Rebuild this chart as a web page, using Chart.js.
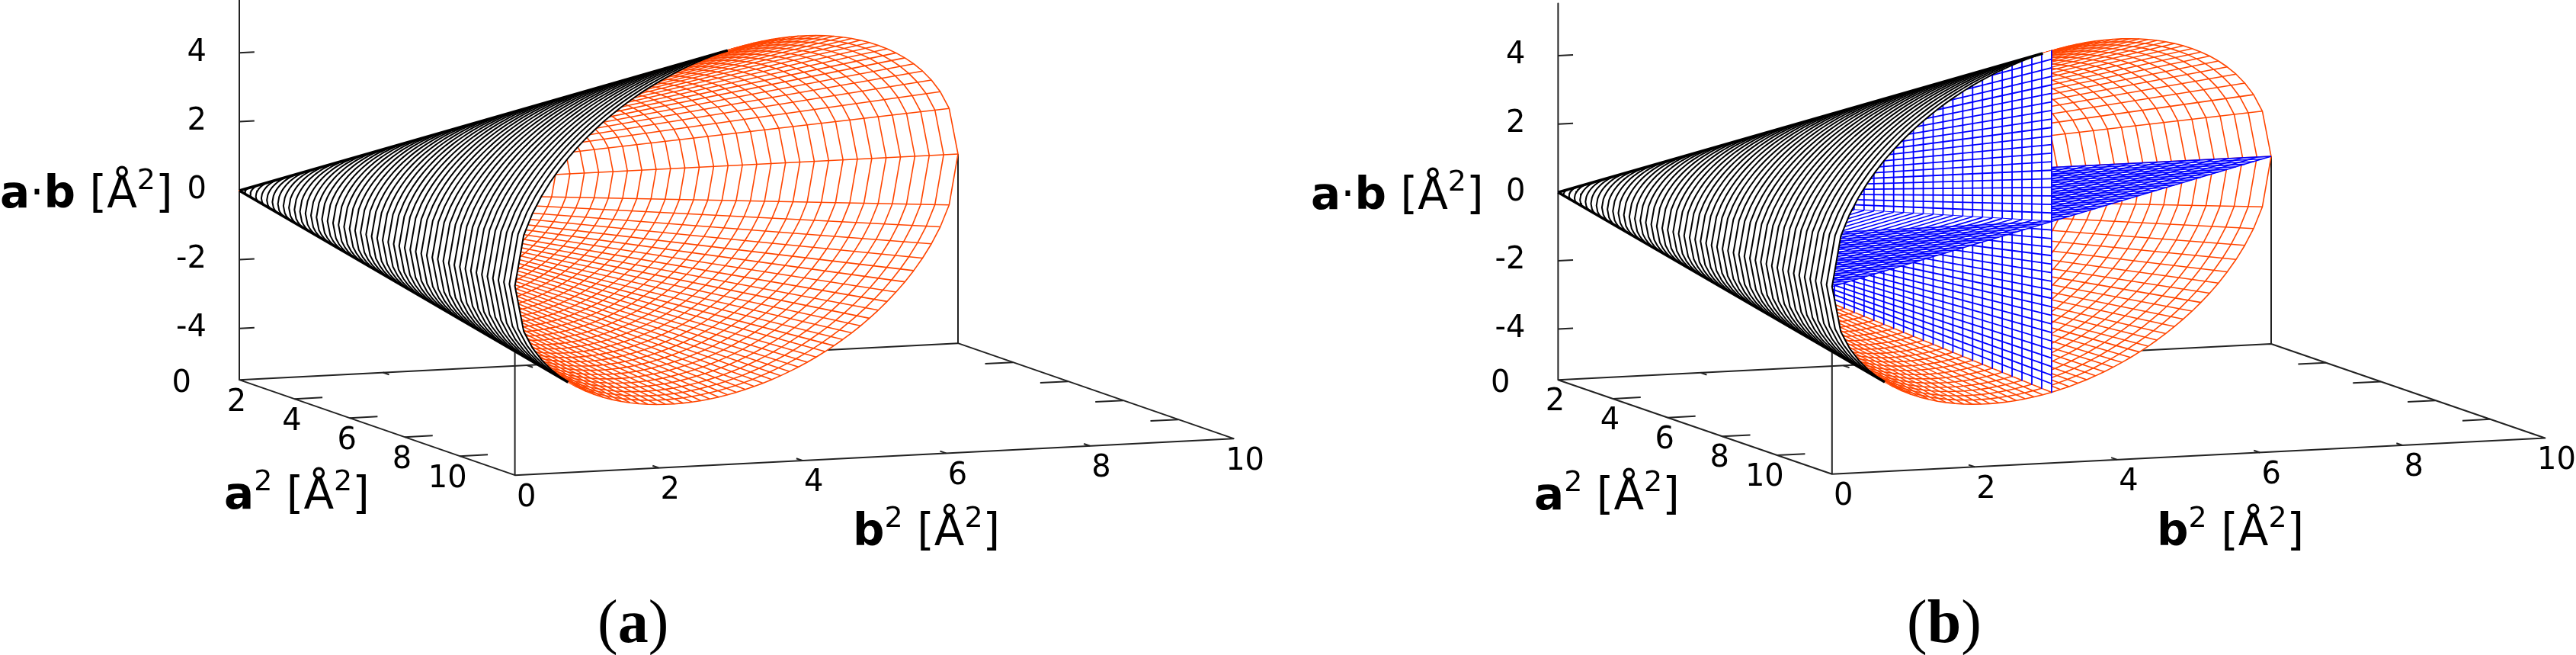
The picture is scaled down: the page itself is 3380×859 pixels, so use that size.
<!DOCTYPE html>
<html>
<head>
<meta charset="utf-8">
<script src="https://cdn.jsdelivr.net/npm/chart.js@4"></script>
<style>
  html, body { margin: 0; padding: 0; background: #fff; }
  canvas { position: absolute; top: 0; }
</style>
</head>
<body>
<canvas id="panelA" width="1690" height="859" style="left:0"></canvas>
<canvas id="panelB" width="1690" height="859" style="left:1690px"></canvas>
<script>
// values, in A^2
const aLabels = [0, 2, 4, 6, 8, 10];
const bLabels = [0, 2, 4, 6, 8, 10];
const zLabels = [-4, -2, 0, 2, 4];
const aTickAt = [2, 4, 6, 8];
const bTickAt = [2, 4, 6, 8];

// open end of the cone, one entry per mesh row
const rimA = [0, 0.2, 0.4, 0.6, 0.8, 1, 1.2, 1.4, 1.6, 1.8, 2, 2.2, 2.4, 2.6, 2.8, 3, 3.2, 3.4, 3.6, 3.8, 4, 4.2, 4.4, 4.6, 4.8, 5,
  5.2, 5.4, 5.6, 5.8, 6, 6.2, 6.4, 6.6, 6.8, 7, 7.2, 7.4, 7.6, 7.8, 8, 8.2, 8.4, 8.6, 8.8, 9, 9.2, 9.4, 9.6, 9.8, 10];
const rimB = [10, 9.8, 9.6, 9.4, 9.2, 9, 8.8, 8.6, 8.4, 8.2, 8, 7.8, 7.6, 7.4, 7.2, 7, 6.8, 6.6, 6.4, 6.2, 6, 5.8, 5.6, 5.4, 5.2, 5,
  4.8, 4.6, 4.4, 4.2, 4, 3.8, 3.6, 3.4, 3.2, 3, 2.8, 2.6, 2.4, 2.2, 2, 1.8, 1.6, 1.4, 1.2, 1, 0.8, 0.6, 0.4, 0.2, 0];
const rimZ = [0, 1.4, 1.96, 2.375, 2.713, 3, 3.25, 3.47, 3.666, 3.842, 4, 4.142, 4.271, 4.386, 4.49, 4.583, 4.665, 4.737, 4.8, 4.854, 4.899, 4.936, 4.964, 4.984, 4.996, 5,
  4.996, 4.984, 4.964, 4.936, 4.899, 4.854, 4.8, 4.737, 4.665, 4.583, 4.49, 4.386, 4.271, 4.142, 4, 3.842, 3.666, 3.47, 3.25, 3, 2.713, 2.375, 1.96, 1.4, 0];
// size of each closed ring as a share of the open end
const ringShare = [0.02, 0.04, 0.06, 0.08, 0.1, 0.12, 0.14, 0.16, 0.18, 0.2, 0.22, 0.24, 0.26, 0.28, 0.3, 0.32, 0.34, 0.36, 0.38, 0.4, 0.42, 0.44, 0.46, 0.48, 0.5,
  0.52, 0.54, 0.56, 0.58, 0.6, 0.62, 0.64, 0.66, 0.68, 0.7, 0.72, 0.74, 0.76, 0.78, 0.8, 0.82, 0.84, 0.86, 0.88, 0.9, 0.92, 0.94, 0.96, 0.98, 1];
// mesh rows where the outside of the cone turns away from the viewer
const topEdgeRow = 26;
const bottomEdgeRow = 44;

// vertical blue sheet, panel b
const sheetAt = [0.1, 0.2, 0.3, 0.4, 0.5, 0.6, 0.7, 0.8, 0.9, 1, 1.1, 1.2, 1.3, 1.4, 1.5, 1.6, 1.7, 1.8, 1.9, 2, 2.1, 2.2, 2.3, 2.4, 2.5,
  2.6, 2.7, 2.8, 2.9, 3, 3.1, 3.2, 3.3, 3.4, 3.5, 3.6, 3.7, 3.8, 3.9, 4, 4.1, 4.2, 4.3, 4.4, 4.5, 4.6, 4.7, 4.8, 4.9, 5];
const sheetRows = [-4.75, -4.5, -4.25, -4, -3.75, -3.5, -3.25, -3, -2.75, -2.5, -2.25, -2, -1.75, -1.5, -1.25, -1, -0.75, -0.5, -0.25, 0,
  0.25, 0.5, 0.75, 1, 1.25, 1.5, 1.75, 2, 2.25, 2.5, 2.75, 3, 3.25, 3.5, 3.75, 4, 4.25, 4.5, 4.75];

const ORANGE = "#ff4500";
const BLUE = "#0000ff";
const AXIS = "#222222";
const SANS = '"DejaVu Sans"';
const SERIF = '"Liberation Serif"';

const panels = {
    a: {
        id: "panelA", originX: 314, zeroY: 250, bPx: 94.3, zPx: 45.2,
        aSlantX: 36.16, aSlantY: 12.5, bSlantY: 4.8, sheet: false,
        zTitle: 0, zTitleY: 272, aTitle: 294, aTitleY: 667, bTitle: 1119, bTitleY: 715,
        caption: [["(", false], ["a", true], [")", false]], captionX: 784
    },
    b: {
        id: "panelB", originX: 354.4, zeroY: 252.3, bPx: 93.56, zPx: 44.8,
        aSlantX: 35.94, aSlantY: 12.35, bSlantY: 4.72, sheet: true,
        zTitle: 30, zTitleY: 274, aTitle: 323, aTitleY: 668, bTitle: 1140, bTitleY: 715,
        caption: [["(", false], ["b", true], [")", false]], captionX: 812
    }
};

function buildDatasets(p) {
    const sets = [];
    // a^2, b^2, a.b down to the two plot axes
    const at = (a, b, z) => ({
        x: b + a * p.aSlantX / p.bPx,
        y: z + (b * p.bSlantY - a * p.aSlantY) / p.zPx
    });
    const line = (pts, color, width) => sets.push({
        data: pts, showLine: true, pointRadius: 0, borderColor: color, borderWidth: width,
        borderJoinStyle: "round", tension: 0, fill: false
    });
    const patch = (pts) => sets.push({
        data: pts, showLine: true, pointRadius: 0, borderWidth: 0, borderColor: "#fff",
        backgroundColor: "#fff", tension: 0, fill: "shape"
    });
    const apex = at(0, 0, 0);
    const floor = -5.49, ceil = 5.53;

    // box
    line([at(0, 0, ceil), at(0, 0, floor), at(10, 0, floor), at(10, 10, floor), at(0, 10, floor), at(0, 0, floor)], AXIS, 2);
    line([at(10, 0, floor), at(10, 0, 0)], AXIS, 2);
    line([at(0, 10, floor), at(0, 10, 0)], AXIS, 2);
    zLabels.forEach(z => line([at(0, 0, z), at(0, 0.21, z)], AXIS, 2));
    aTickAt.forEach(a => {
        line([at(a, 0, floor), at(a, 0.39, floor)], AXIS, 2);
        line([at(a, 10, floor), at(a, 9.61, floor)], AXIS, 2);
    });
    bTickAt.forEach(b => {
        line([at(0, b, floor), at(0.22, b, floor)], AXIS, 2);
        line([at(10, b, floor), at(9.78, b, floor)], AXIS, 2);
    });

    // the box is hidden behind the whole open end
    const rimUp = rimA.map((a, j) => at(a, rimB[j], rimZ[j]));
    const rimDown = rimA.map((a, j) => at(a, rimB[j], -rimZ[j]));
    patch(rimUp.concat(rimDown.slice().reverse()));

    // inside of the cone
    ringShare.forEach(s => {
        const pts = [];
        for (let j = topEdgeRow; j >= 0; j--) pts.push(at(rimA[j] * s, rimB[j] * s, rimZ[j] * s));
        for (let j = 1; j <= bottomEdgeRow; j++) pts.push(at(rimA[j] * s, rimB[j] * s, -rimZ[j] * s));
        line(pts, ORANGE, 1.6);
    });
    for (let j = 0; j < topEdgeRow; j++) line([apex, rimUp[j]], ORANGE, 1.6);
    for (let j = 1; j < bottomEdgeRow; j++) line([apex, rimDown[j]], ORANGE, 1.6);

    if (p.sheet) {
        const mid = rimA.indexOf(5);
        const last = rimA.length - 1;
        // flat sheet behind the vertical one
        patch([apex, at(rimA[0], rimB[0], 0), at(rimA[mid], rimB[mid], 0)]);
        ringShare.forEach(s => line([at(rimA[0] * s, rimB[0] * s, 0), at(rimA[mid] * s, rimB[mid] * s, 0)], BLUE, 1.6));
        for (let j = 0; j <= mid; j++) line([at(rimA[j], rimA[j], 0), at(rimA[j], rimB[j], 0)], BLUE, 1.6);
        // vertical sheet a^2 = b^2, its lower edge cut in steps
        const steps = [];
        sheetAt.forEach(v => { steps.push(at(v, v, -v + 0.1)); steps.push(at(v, v, -v)); });
        patch([at(5, 5, 5), apex].concat(steps));
        sheetAt.forEach(v => line([at(v, v, v), at(v, v, -v)], BLUE, 1.8));
        sheetRows.forEach(z => line([apex, at(5, 5, z)], BLUE, 1.8));
        // flat sheet in front of it
        patch([apex, at(rimA[mid], rimB[mid], 0), at(rimA[last], rimB[last], 0)]);
        ringShare.forEach(s => line([at(rimA[mid] * s, rimB[mid] * s, 0), at(rimA[last] * s, rimB[last] * s, 0)], BLUE, 1.6));
        for (let j = mid; j <= last; j++) line([at(rimA[j], 0, 0), at(rimA[j], Math.min(rimA[j], rimB[j]), 0)], BLUE, 1.6);
    }

    // outside of the cone, near the viewer; one row wider so no orange shows along its edge
    patch([apex].concat(rimUp.slice(topEdgeRow - 1), rimDown.slice(bottomEdgeRow - 1).reverse()));
    ringShare.forEach(s => {
        const pts = [];
        for (let j = topEdgeRow; j < rimA.length; j++) pts.push(at(rimA[j] * s, rimB[j] * s, rimZ[j] * s));
        for (let j = rimA.length - 2; j >= bottomEdgeRow; j--) pts.push(at(rimA[j] * s, rimB[j] * s, -rimZ[j] * s));
        line(pts, "#000", 2);
    });
    // the ring ends pile up into a dark edge along both sides
    line([apex, rimUp[topEdgeRow]], "#000", 3.5);
    line([apex, rimDown[bottomEdgeRow]], "#000", 3.5);

    // Chart.js paints the first dataset last
    return { sets: sets.reverse(), at };
}

function drawRuns(ctx, runs, x, y, size, family) {
    ctx.textAlign = "left";
    ctx.textBaseline = "alphabetic";
    runs.forEach(([text, bold, sup]) => {
        ctx.font = (bold ? "bold " : "") + (sup ? 38 : size) + "px " + family;
        ctx.fillText(text, x, sup ? y - 24 : y);
        x += ctx.measureText(text).width;
    });
}

function makePanel(p) {
    const { sets, at } = buildDatasets(p);
    const canvas = document.getElementById(p.id);
    const floor = -5.49;

    const panelText = {
        id: "panelText",
        afterDraw(chart) {
            const { ctx, scales } = chart;
            const px = pt => [scales.x.getPixelForValue(pt.x), scales.y.getPixelForValue(pt.y)];
            ctx.save();
            ctx.fillStyle = "#000";
            ctx.font = "40px " + SANS;
            ctx.textBaseline = "middle";
            ctx.textAlign = "right";
            aLabels.forEach(a => {
                const [x, y] = px(at(a, 0, floor));
                ctx.fillText(String(a), x - 63, y + 5);
            });
            ctx.textAlign = "center";
            bLabels.forEach(b => {
                const [x, y] = px(at(10, b, floor));
                ctx.fillText(String(b), x + 15, y + 30);
            });
            const unit = [[" [Å", false], ["2", false, true], ["]", false]];
            drawRuns(ctx, [["a", true], ["·", false], ["b", true]].concat(unit), p.zTitle, p.zTitleY, 58, SANS);
            drawRuns(ctx, [["a", true], ["2", false, true]].concat(unit), p.aTitle, p.aTitleY, 58, SANS);
            drawRuns(ctx, [["b", true], ["2", false, true]].concat(unit), p.bTitle, p.bTitleY, 58, SANS);
            drawRuns(ctx, p.caption, p.captionX, 842, 80, SERIF);
            ctx.restore();
        }
    };

    return new Chart(canvas, {
        type: "scatter",
        data: { datasets: sets },
        plugins: [panelText],
        options: {
            responsive: false,
            animation: false,
            devicePixelRatio: 1,
            events: [],
            layout: { padding: 0 },
            plugins: { legend: { display: false }, tooltip: { enabled: false } },
            scales: {
                x: {
                    type: "linear", display: false,
                    min: -p.originX / p.bPx, max: (1690 - p.originX) / p.bPx
                },
                y: {
                    type: "linear",
                    position: { x: -43 / p.bPx },
                    min: -(859 - p.zeroY) / p.zPx, max: p.zeroY / p.zPx,
                    afterBuildTicks: ax => { ax.ticks = zLabels.map(v => ({ value: v })); },
                    // tick labels must not eat into the plot area
                    afterFit: ax => { ax.paddingTop = 0; ax.paddingBottom = 0; },
                    grid: { display: false, drawTicks: false },
                    border: { display: false },
                    ticks: {
                        autoSkip: false, maxRotation: 0, padding: 0, color: "#000",
                        font: { family: "DejaVu Sans", size: 40 },
                        callback: v => String(v)
                    }
                }
            }
        }
    });
}

makePanel(panels.a);
makePanel(panels.b);
</script>
</body>
</html>
